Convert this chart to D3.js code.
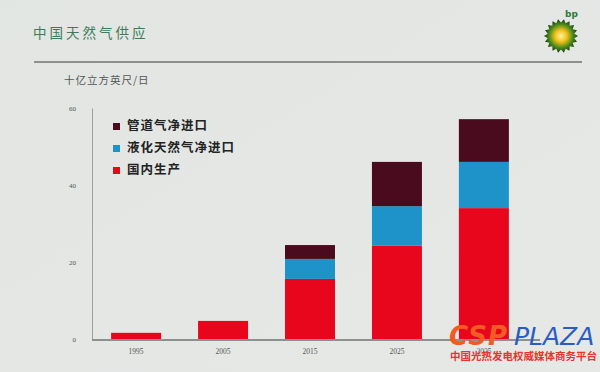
<!DOCTYPE html>
<html>
<head>
<meta charset="utf-8">
<script src="https://cdn.jsdelivr.net/npm/d3@7"></script>
<style>
  body { margin: 0; background: #e3e6e3; }
  svg { display: block; }
</style>
</head>
<body>
<script>
var w = 600, h = 372;

// data (billion cubic feet per day)
var years = ["1995", "2005", "2015", "2025", "2035"];
var domestic = [1.6, 4.7, 15.6, 24.2, 34.0];
var lng = [0, 0, 5.2, 10.3, 12.0];
var pipeline = [0, 0, 3.6, 11.5, 11.1];
var yTicks = [0, 20, 40, 60];
var seriesNames = ["管道气净进口", "液化天然气净进口", "国内生产"];
var seriesColors = ["#4a0b1f", "#1e93c9", "#e8061c"];

var svg = d3.select("body")
  .append("svg")
  .attr("width", w)
  .attr("height", h);

// background with a soft gradient
var defs = svg.append("defs");
var bg = defs.append("linearGradient")
  .attr("id", "bg")
  .attr("x1", 0).attr("y1", 0).attr("x2", 1).attr("y2", 1);
bg.append("stop").attr("offset", "0%").attr("stop-color", "#e2e6e3");
bg.append("stop").attr("offset", "100%").attr("stop-color", "#e6e8e6");

svg.append("rect")
  .attr("width", w)
  .attr("height", h)
  .style("fill", "url(#bg)");

// header
svg.append("text")
  .attr("x", 33)
  .attr("y", 38)
  .style("font-family", "'Noto Sans CJK SC'")
  .style("font-size", "13.5px")
  .style("letter-spacing", "3px")
  .style("fill", "#3f7a5a")
  .text("中国天然气供应");

svg.append("line")
  .attr("x1", 34).attr("x2", 582)
  .attr("y1", 62).attr("y2", 62)
  .style("stroke", "#6f7372")
  .style("stroke-width", 1.6);

svg.append("text")
  .attr("x", 64)
  .attr("y", 84)
  .style("font-family", "'Noto Sans CJK SC'")
  .style("font-size", "10.5px")
  .style("letter-spacing", "1px")
  .style("fill", "#555")
  .text("十亿立方英尺/日");

// bp logo
var sun = defs.append("radialGradient").attr("id", "sun");
sun.append("stop").attr("offset", "0%").attr("stop-color", "#fff3a0");
sun.append("stop").attr("offset", "35%").attr("stop-color", "#f2c21a");
sun.append("stop").attr("offset", "70%").attr("stop-color", "#4c8a1a");
sun.append("stop").attr("offset", "100%").attr("stop-color", "#123d10");

var pts = [];
for (var i = 0; i < 36; i++) {
  var a = i * Math.PI / 18;
  var r = i % 2 === 0 ? 17 : 13.5;
  pts.push([561 + r * Math.cos(a), 36 + r * Math.sin(a)]);
}
svg.append("polygon")
  .attr("points", pts.map(function(p) { return p.join(","); }).join(" "))
  .style("fill", "url(#sun)");

svg.append("text")
  .attr("x", 565)
  .attr("y", 17)
  .style("font-family", "'DejaVu Sans'")
  .style("font-size", "9px")
  .style("font-weight", "bold")
  .style("fill", "#2f7a3a")
  .text("bp");

// scales
var x = d3.scaleBand()
  .domain(years)
  .range([92, 528])
  .paddingInner(0.425)
  .paddingOuter(0.22);

var y = d3.scaleLinear()
  .domain([0, 60])
  .range([339, 108]);

var table = years.map(function(d, i) {
  return { year: d, domestic: domestic[i], lng: lng[i], pipeline: pipeline[i] };
});

var stack = d3.stack().keys(["domestic", "lng", "pipeline"]);
var layers = stack(table);
var layerColors = { domestic: seriesColors[2], lng: seriesColors[1], pipeline: seriesColors[0] };

// y axis
var yAxis = d3.axisLeft(y)
  .tickValues(yTicks)
  .tickSize(0)
  .tickPadding(16);

var yg = svg.append("g")
  .attr("transform", "translate(92,0)")
  .call(yAxis);
yg.select(".domain").style("stroke", "#8a8d8c").style("stroke-width", 0.8);
yg.selectAll("text")
  .style("font-family", "'Liberation Serif'")
  .style("font-size", "7px")
  .style("fill", "#555");

// bars
svg.selectAll(".layer")
  .data(layers)
  .enter()
  .append("g")
  .attr("class", "layer")
  .style("fill", function(d) { return layerColors[d.key]; })
  .selectAll("rect")
  .data(function(d) { return d; })
  .enter()
  .append("rect")
  .attr("x", function(d) { return x(d.data.year); })
  .attr("width", x.bandwidth())
  .attr("y", function(d) { return y(d[1]); })
  .attr("height", function(d) { return y(d[0]) - y(d[1]); });

// x axis
var xAxis = d3.axisBottom(x)
  .tickSize(0)
  .tickPadding(9);

var xg = svg.append("g")
  .attr("transform", "translate(0,340)")
  .call(xAxis);
xg.select(".domain")
  .attr("d", "M92,0H540")
  .style("stroke", "#6f7372")
  .style("stroke-width", 1.5);
xg.selectAll("text")
  .style("font-family", "'Liberation Serif'")
  .style("font-size", "7.5px")
  .style("fill", "#555");

// legend
var legend = svg.selectAll(".legend")
  .data(seriesNames)
  .enter()
  .append("g")
  .attr("class", "legend")
  .attr("transform", function(d, i) {
    return "translate(113," + (123 + i * 22) + ")";
  });

legend.append("rect")
  .attr("y", 0)
  .attr("width", 7)
  .attr("height", 7)
  .style("fill", function(d, i) { return seriesColors[i]; });

legend.append("text")
  .attr("x", 14)
  .attr("y", 7)
  .style("font-family", "'Noto Sans CJK SC'")
  .style("font-size", "12.5px")
  .style("letter-spacing", "1px")
  .style("font-weight", "bold")
  .style("fill", "#222")
  .text(function(d) { return d; });

// watermark
var wm = svg.append("g");
wm.append("text")
  .attr("x", 449)
  .attr("y", 345)
  .style("font-family", "'DejaVu Sans'")
  .style("font-size", "26px")
  .style("font-weight", "bold")
  .style("font-style", "italic")
  .style("letter-spacing", "1px")
  .style("fill", "#f25c22")
  .text("CSP");
wm.append("text")
  .attr("x", 514)
  .attr("y", 345)
  .style("font-family", "'DejaVu Sans'")
  .style("font-size", "25px")
  .style("font-style", "italic")
  .style("font-weight", "200")
  .style("fill", "#2a5cc4")
  .text("PLAZA");
wm.append("text")
  .attr("x", 450)
  .attr("y", 360)
  .style("font-family", "'Noto Sans CJK SC'")
  .style("font-size", "10.5px")
  .style("font-weight", "bold")
  .style("fill", "#e8352a")
  .text("中国光热发电权威媒体商务平台");
</script>
</body>
</html>
